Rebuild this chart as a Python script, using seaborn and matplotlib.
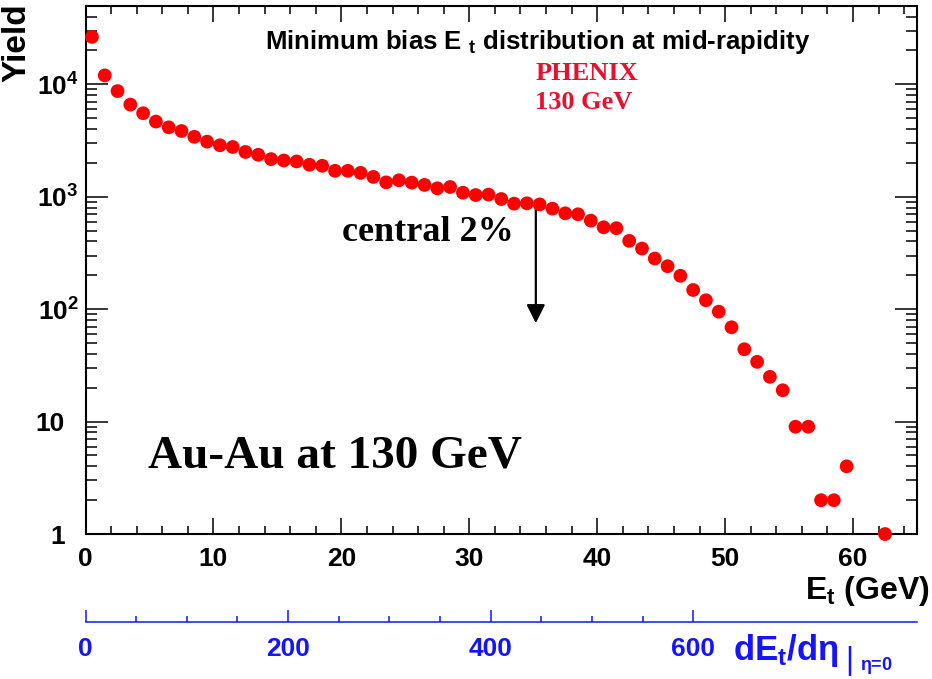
import numpy as np
import pandas as pd
import matplotlib
matplotlib.use("Agg")
import matplotlib.pyplot as plt
import seaborn as sns
from matplotlib.ticker import FixedLocator, FixedFormatter, LogLocator, NullFormatter, MultipleLocator

# Minimum-bias transverse energy distribution, 1 GeV bins (bin centres)
et_gev = [0.5, 1.5, 2.5, 3.5, 4.5, 5.5, 6.5, 7.5, 8.5, 9.5,
          10.5, 11.5, 12.5, 13.5, 14.5, 15.5, 16.5, 17.5, 18.5, 19.5,
          20.5, 21.5, 22.5, 23.5, 24.5, 25.5, 26.5, 27.5, 28.5, 29.5,
          30.5, 31.5, 32.5, 33.5, 34.5, 35.5, 36.5, 37.5, 38.5, 39.5,
          40.5, 41.5, 42.5, 43.5, 44.5, 45.5, 46.5, 47.5, 48.5, 49.5,
          50.5, 51.5, 52.5, 53.5, 54.5, 55.5, 56.5, 57.5, 58.5, 59.5,
          62.5]
yield_counts = [26400, 12000, 8700, 6600, 5530, 4660, 4140, 3840, 3410, 3090,
                2870, 2770, 2500, 2360, 2160, 2100, 2060, 1925, 1885, 1700,
                1700, 1630, 1500, 1343, 1400, 1335, 1274, 1188, 1220, 1086,
                1035, 1045, 954, 868, 874, 855, 783, 712, 698, 613,
                535, 525, 405, 346, 282, 241, 198, 148, 120, 95,
                69, 44, 34, 25, 19, 9, 9, 2, 2, 4,
                1]

x_ticks = [0, 10, 20, 30, 40, 50, 60]
y_ticks = [1, 10, 100, 1000, 10000]
y_tick_labels = ["1", "10", r"$10^{2}$", r"$10^{3}$", r"$10^{4}$"]
deta_ticks = [0, 200, 400, 600]
deta_minor = [50, 100, 150, 250, 300, 350, 450, 500, 550]
deta_per_gev = 12.63          # dEt/deta at eta=0 per GeV of measured Et
central_cut_gev = 35.2        # start of the 2% most central events
arrow_top, arrow_tip = 850, 75

sns.set_theme(style="ticks")
plt.rcParams.update({
    "font.family": ["Liberation Sans", "DejaVu Sans"],
    "font.weight": "bold",
    "mathtext.fontset": "custom",
    "mathtext.rm": "Liberation Sans:bold",
    "mathtext.it": "Liberation Sans:bold",
    "mathtext.bf": "Liberation Sans:bold",
    "mathtext.sf": "Liberation Sans:bold",
    "axes.linewidth": 1.5,
    "text.color": "black",
    "axes.labelcolor": "black",
    "axes.edgecolor": "black",
    "xtick.color": "black",
    "ytick.color": "black",
})

BLUE = "#1414ff"
RED_TXT = "#e8102e"

fig = plt.figure(figsize=(9.32, 6.79), dpi=100)
ax = fig.add_axes([0.0918, 0.2135, 0.8921, 0.7781])

df = pd.DataFrame({"Et": et_gev, "Yield": yield_counts})
sns.scatterplot(data=df, x="Et", y="Yield", ax=ax, color="#ff0000", s=98,
                edgecolor="none", linewidth=0, zorder=3, clip_on=False, legend=False)

ax.set_yscale("log")
ax.set_xlim(0, 65)
ax.set_ylim(1, 5e4)

for side in ["left", "right", "top", "bottom"]:
    ax.spines[side].set_visible(True)
    ax.spines[side].set_color("black")
    ax.spines[side].set_linewidth(1.5)

# x axis ticks
ax.xaxis.set_major_locator(FixedLocator(x_ticks))
ax.xaxis.set_minor_locator(MultipleLocator(2))
ax.tick_params(axis="x", which="major", direction="in", length=11.5, width=1.1,
               top=True, bottom=True, labelsize=19, pad=9, colors="black")
ax.tick_params(axis="x", which="minor", direction="in", length=5.8, width=1.1,
               top=True, bottom=True, colors="black")

# y axis ticks
ax.yaxis.set_major_locator(FixedLocator(y_ticks))
ax.yaxis.set_major_formatter(FixedFormatter(y_tick_labels))
ax.yaxis.set_minor_locator(LogLocator(base=10, subs=np.arange(2, 10)))
ax.yaxis.set_minor_formatter(NullFormatter())
ax.tick_params(axis="y", which="major", direction="in", length=16, width=1.1,
               left=True, right=True, labelsize=19, pad=5, colors="black")
ax.tick_params(axis="y", which="minor", direction="in", length=8, width=1.1,
               left=True, right=True, colors="black")
for tick, val in zip(ax.yaxis.get_major_ticks(len(y_ticks)), y_ticks):
    if val < 100:
        tick.set_pad(15)

ax.set_xlabel("")
ax.set_ylabel("Yield", fontsize=24, fontweight="bold", color="black")
ylab = ax.yaxis.label
ylab.set_rotation_mode("default")
ylab.set_horizontalalignment("center")
ylab.set_verticalalignment("top")
ax.yaxis.set_label_coords(-0.0825, 1.005)
ax.set_xlabel(r"E$_{t}$ (GeV)", fontsize=23, fontweight="bold", loc="right",
              color="black")
ax.xaxis.set_label_coords(1.0156, -0.075)

# secondary energy-density scale
sec = ax.secondary_xaxis(-0.1667, functions=(lambda e: e * deta_per_gev,
                                              lambda d: d / deta_per_gev))
sec.xaxis.set_major_locator(FixedLocator(deta_ticks))
sec.xaxis.set_minor_locator(FixedLocator(deta_minor))
sec.tick_params(axis="x", which="major", direction="in", length=9, width=1.1,
                colors=BLUE, labelsize=19, pad=11)
sec.tick_params(axis="x", which="minor", direction="in", length=4.5, width=1.1,
                colors=BLUE)
sec.spines["bottom"].set_color(BLUE)
sec.spines["bottom"].set_linewidth(1.1)
for lab in sec.get_xticklabels():
    lab.set_fontweight("bold")

fig.text(733 / 932, 1 - 660 / 679, r"dE$_{t}$/d$\eta$", fontsize=25,
         color=BLUE, fontweight="bold", ha="left", va="baseline")
fig.text(845 / 932, 1 - 669 / 679, "|", fontsize=22, color=BLUE,
         fontweight="normal", ha="left", va="baseline")
fig.text(860 / 932, 1 - 670 / 679, r"$\eta$=0", fontsize=13, color=BLUE,
         fontweight="bold", ha="left", va="baseline")

# annotations
ax.text(0.544, 0.931, r"Minimum bias E $_{t}$ distribution at mid-rapidity",
        transform=ax.transAxes, fontsize=18.5, fontweight="bold", ha="center",
        va="center", color="black")
ax.text(0.541, 0.8726, "PHENIX", transform=ax.transAxes, fontsize=19,
        family="Liberation Serif", fontweight="bold", color=RED_TXT,
        ha="left", va="center")
ax.text(0.541, 0.816, "130 GeV", transform=ax.transAxes, fontsize=19,
        family="Liberation Serif", fontweight="bold", color=RED_TXT,
        ha="left", va="center")
ax.text(0.412, 0.570, "central 2%", transform=ax.transAxes, fontsize=26,
        family="Liberation Serif", fontweight="bold", color="black",
        ha="center", va="center")
ax.text(0.300, 0.146, "Au-Au at 130 GeV", transform=ax.transAxes, fontsize=34,
        family="Liberation Serif", fontweight="bold", color="black",
        ha="center", va="center")

ax.annotate("", xy=(central_cut_gev, arrow_tip), xytext=(central_cut_gev, arrow_top),
            arrowprops=dict(arrowstyle="-|>", color="black", lw=1.6,
                            mutation_scale=28, shrinkA=0, shrinkB=0),
            zorder=2)

fig.savefig("out.png", dpi=100)
